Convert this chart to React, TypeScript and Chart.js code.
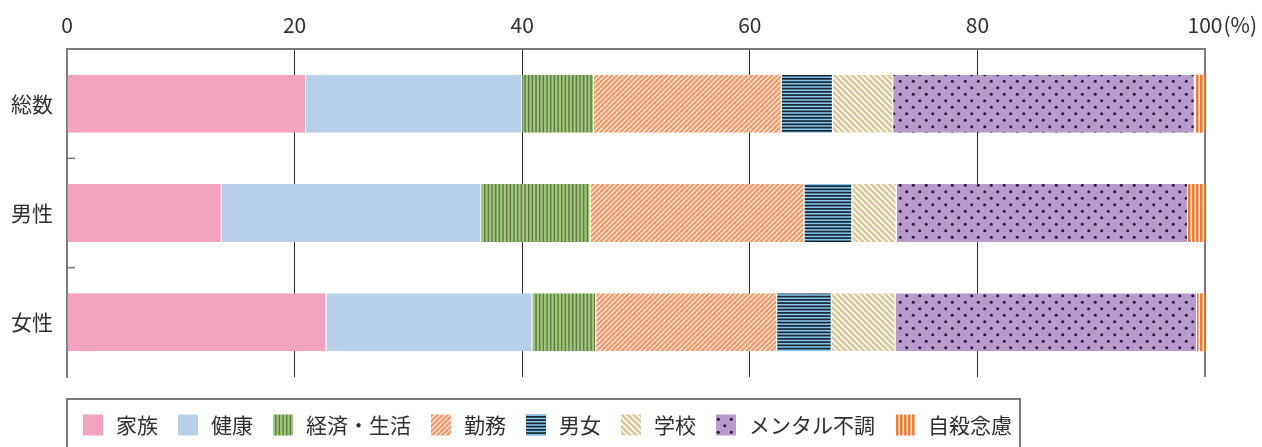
import React, { useEffect, useRef } from 'react';
import { Chart, registerables } from 'chart.js';

Chart.register(...registerables);

// ---- data ----
const categories = ['総数', '男性', '女性'];
const seriesNames = ['家族', '健康', '経済・生活', '勤務', '男女', '学校', 'メンタル不調', '自殺念慮'];
const family = [21.0, 13.6, 22.8];
const health = [19.0, 22.8, 18.1];
const economy = [6.3, 9.6, 5.6];
const work = [16.5, 18.8, 15.9];
const gender = [4.5, 4.2, 4.8];
const school = [5.3, 3.9, 5.6];
const mental = [26.5, 25.6, 26.5];
const suicidal = [0.9, 1.5, 0.7];
const xTickValues = [0, 20, 40, 60, 80, 100];
const unitLabel = '(%)';

// ---- style ----
const FONT = '"Noto Sans CJK JP", "Noto Sans", sans-serif';
const FONT_SIZE = 21;
const TEXT = '#2e2e2e';
const AXIS = '#7a7a7a';
const GRID = '#2a2a2a';
const TICK_PAD = 11;

type Painter = (g: CanvasRenderingContext2D, w: number, h: number) => void;

function makePattern(main: CanvasRenderingContext2D, w: number, h: number, paint: Painter) {
  const c = document.createElement('canvas');
  c.width = w;
  c.height = h;
  const g = c.getContext('2d')!;
  paint(g, w, h);
  return main.createPattern(c, 'repeat')!;
}

function buildFills(main: CanvasRenderingContext2D): (string | CanvasPattern)[] {
  const pink = '#f3a3bf';
  const lightBlue = '#b9d0ea';
  const economyP = makePattern(main, 11, 4, (g, w, h) => {
    g.fillStyle = '#9dca6d';
    g.fillRect(0, 0, w, h);
    g.fillStyle = '#66735c';
    [0, 11 / 3, 22 / 3].forEach((x) => g.fillRect(x, 0, 1.4, h));
  });
  const workP = makePattern(main, 5, 5, (g, w, h) => {
    g.fillStyle = '#f29a68';
    g.fillRect(0, 0, w, h);
    g.strokeStyle = 'rgba(255,255,255,0.95)';
    g.lineWidth = 1.1;
    g.beginPath();
    g.moveTo(0, h); g.lineTo(w, 0);
    g.moveTo(-1, 1); g.lineTo(1, -1);
    g.moveTo(w - 1, h + 1); g.lineTo(w + 1, h - 1);
    g.stroke();
  });
  const genderP = makePattern(main, 4, 13, (g, w, h) => {
    g.fillStyle = '#86c6ec';
    g.fillRect(0, 0, w, h);
    g.fillStyle = '#1b2633';
    [0, 3.25, 6.5, 9.75].forEach((y) => g.fillRect(0, y, w, 1.7));
  });
  const schoolP = makePattern(main, 6, 6, (g, w, h) => {
    g.fillStyle = '#d9cb9f';
    g.fillRect(0, 0, w, h);
    g.strokeStyle = 'rgba(255,255,255,0.95)';
    g.lineWidth = 1.5;
    g.beginPath();
    g.moveTo(0, 0); g.lineTo(w, h);
    g.moveTo(-1, h - 1); g.lineTo(1, h + 1);
    g.moveTo(w - 1, -1); g.lineTo(w + 1, 1);
    g.stroke();
  });
  const mentalP = makePattern(main, 13, 13, (g, w, h) => {
    g.fillStyle = '#b79bcb';
    g.fillRect(0, 0, w, h);
    g.fillStyle = '#301842';
    [[3.25, 3.25], [9.75, 9.75]].forEach(([x, y]) => {
      g.beginPath();
      g.arc(x, y, 1.55, 0, Math.PI * 2);
      g.fill();
    });
  });
  const suicidalP = makePattern(main, 4, 4, (g, w, h) => {
    g.fillStyle = '#ee7a33';
    g.fillRect(0, 0, w, h);
    g.fillStyle = '#ffffff';
    g.fillRect(2.6, 0, 1.4, h);
  });
  return [pink, lightBlue, economyP, workP, genderP, schoolP, mentalP, suicidalP];
}

const extrasPlugin = {
  id: 'extras',
  afterDatasetsDraw(chart: any) {
    const { ctx, chartArea, scales } = chart;
    const y = scales.y;
    const x = scales.x;
    ctx.save();
    // inward category separator ticks on the left axis
    ctx.strokeStyle = AXIS;
    ctx.lineWidth = 1.5;
    for (let i = 0; i < categories.length - 1; i++) {
      const py = (y.getPixelForValue(i) + y.getPixelForValue(i + 1)) / 2;
      ctx.beginPath();
      ctx.moveTo(chartArea.left, py);
      ctx.lineTo(chartArea.left + 8, py);
      ctx.stroke();
    }
    // unit label after the last tick
    ctx.font = `${FONT_SIZE}px ${FONT}`;
    ctx.fillStyle = TEXT;
    ctx.textBaseline = 'middle';
    ctx.textAlign = 'left';
    const last = xTickValues[xTickValues.length - 1];
    const lw = ctx.measureText(String(last)).width;
    const ty = x.bottom - TICK_PAD - (FONT_SIZE * 1.2) / 2;
    ctx.fillText(unitLabel, x.getPixelForValue(last) + lw / 2 + 1, ty);

    // boxed legend
    const top = chartArea.bottom + 22;
    const left = chartArea.left;
    const sw = 20;
    const sh = 21;
    const cy = top + 26;
    let cx = left + 16;
    chart.data.datasets.forEach((ds: any) => {
      ctx.fillStyle = ds.backgroundColor;
      ctx.fillRect(cx, cy - sh / 2, sw, sh);
      cx += sw + 13;
      ctx.fillStyle = TEXT;
      ctx.fillText(ds.label, cx, cy);
      cx += ctx.measureText(ds.label).width + 20;
    });
    const right = cx - 20 + 8;
    ctx.strokeStyle = AXIS;
    ctx.lineWidth = 2;
    ctx.strokeRect(left, top, right - left, 80);
    ctx.restore();
  },
};

export default function App() {
  const ref = useRef<HTMLCanvasElement | null>(null);

  useEffect(() => {
    document.body.style.margin = '0';
    const canvas = ref.current!;
    const main = canvas.getContext('2d')!;
    const fills = buildFills(main);
    const values = [family, health, economy, work, gender, school, mental, suicidal];

    const chart = new Chart(canvas, {
      type: 'bar',
      data: {
        labels: categories,
        datasets: seriesNames.map((name, i) => ({
          label: name,
          data: values[i],
          backgroundColor: fills[i] as any,
          borderColor: '#ffffff',
          borderWidth: i === seriesNames.length - 1 ? 0 : { top: 0, bottom: 0, left: 0, right: 1 },
          borderSkipped: false,
          categoryPercentage: 1,
          barPercentage: 0.53,
        })),
      },
      options: {
        indexAxis: 'y',
        responsive: false,
        animation: false,
        devicePixelRatio: 1,
        layout: { padding: { left: 0, right: 57, top: 0, bottom: 70 } },
        plugins: { legend: { display: false }, tooltip: { enabled: false } },
        scales: {
          x: {
            stacked: true,
            position: 'top',
            min: 0,
            max: 100,
            afterBuildTicks: (s: any) => {
              s.ticks = xTickValues.map((v) => ({ value: v }));
            },
            afterFit: (s: any) => {
              s.height = 49;
            },
            ticks: {
              color: TEXT,
              font: { family: FONT, size: FONT_SIZE },
              padding: TICK_PAD,
              maxRotation: 0,
            },
            grid: {
              drawTicks: false,
              color: (c: any) => {
                const v = c.tick?.value;
                if (v === 0) return 'rgba(0,0,0,0)';
                if (v === 100) return AXIS;
                return GRID;
              },
              lineWidth: (c: any) => (c.tick?.value === 100 ? 2 : 1),
            },
            border: { display: true, color: AXIS, width: 2 },
          },
          y: {
            stacked: true,
            afterFit: (s: any) => {
              s.width = 67;
            },
            ticks: {
              color: TEXT,
              font: { family: FONT, size: FONT_SIZE },
              padding: 14,
            },
            grid: { display: false, drawTicks: false },
            border: { display: true, color: AXIS, width: 2 },
          },
        },
      },
      plugins: [extrasPlugin],
    });
    return () => chart.destroy();
  }, []);

  return <canvas ref={ref} width={1262} height={447} style={{ display: 'block' }} />;
}
